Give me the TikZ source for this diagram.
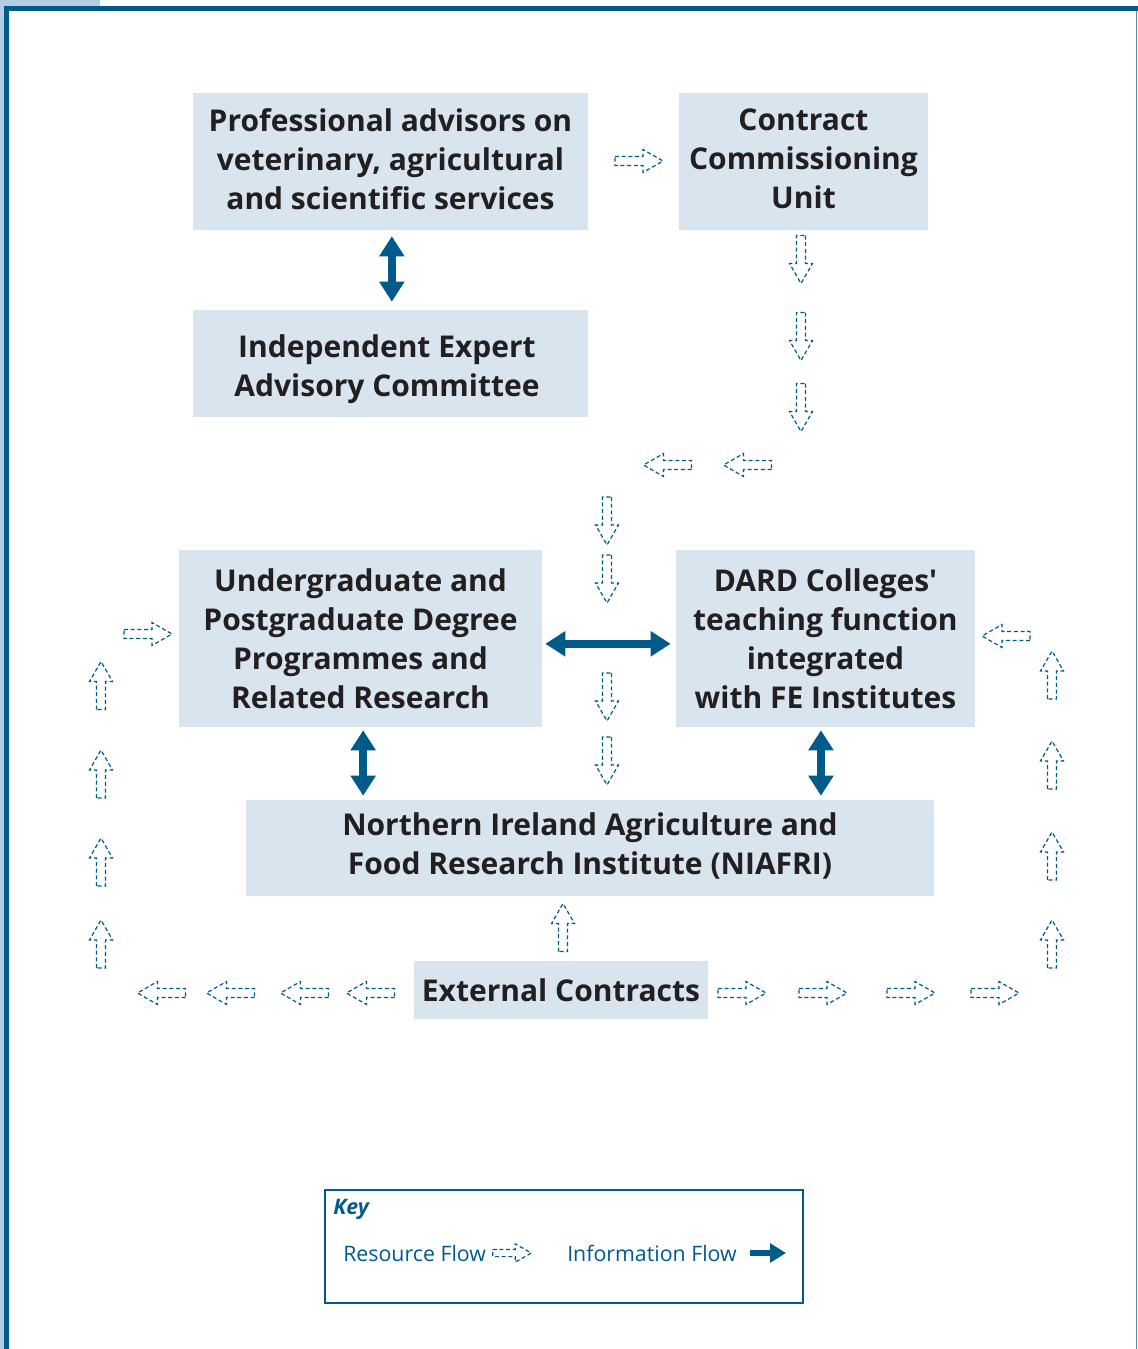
\documentclass[tikz,border=0pt]{standalone}
\usepackage{fontspec}
\setmainfont{Open Sans}
\usetikzlibrary{arrows.meta}
\definecolor{dblue}{HTML}{005A8A}
\definecolor{lframe}{HTML}{B3CDE2}
\definecolor{mblue}{HTML}{5B87B0}
\definecolor{boxfill}{HTML}{D8E4EE}
\definecolor{txt}{HTML}{231F20}
\tikzset{
  box/.style={fill=boxfill, inner sep=0pt, align=center, text=txt,
    font=\fontsize{22.5}{29.25}\selectfont\bfseries},
  boxtext/.style={inner sep=0pt, align=center, text=txt,
    font=\fontsize{22.5}{29.25}\selectfont\bfseries},
  info/.style={draw=dblue, line width=6pt,
    {Triangle[width=18pt,length=15pt]}-{Triangle[width=18pt,length=15pt]}},
  infoone/.style={draw=dblue, line width=5pt, -{Triangle[width=14pt,length=12pt]}},
  rdash/.style={draw=dblue, line width=0.9pt, dash pattern=on 3pt off 2pt},
  keytext/.style={anchor=west, inner sep=0pt, text=dblue, font=\fontsize{16}{19}\selectfont},
  rflow/.pic={\draw[rdash] (-24,-4.5) -- (4,-4.5) -- (4,-11.5) -- (24,0) -- (4,11.5) -- (4,4.5) -- (-24,4.5) -- cycle;}
}
\begin{document}
\begin{tikzpicture}[x=0.75pt,y=-0.75pt]
\useasboundingbox (0,0) rectangle (1138,1349);
% frame
\fill[white] (0,0) rectangle (1138,1349);
\fill[lframe] (0,0) rectangle (100,6);
\fill[lframe] (0,0) rectangle (4,1349);
\fill[dblue] (4,6) rectangle (1138,11);
\fill[dblue] (4,6) rectangle (9,1349);
\draw[mblue, line width=1.2pt] (1136.5,11) -- (1136.5,1349);

% boxes
\node[box, minimum width=395*0.75pt, minimum height=137*0.75pt] (b1) at (390.5,161.5) {};
\node[boxtext] (b1t) at (390.5,159)
  {Professional advisors on\\veterinary, agricultural\\and scientific services};
\node[box, minimum width=249*0.75pt, minimum height=137*0.75pt] (b2) at (803.5,161.5) {};
\node[boxtext] (b2t) at (803.5,159) {Contract\\Commissioning\\Unit};
\node[box, minimum width=395*0.75pt, minimum height=107*0.75pt] (b3) at (390.5,363.5) {};
\node[boxtext] (b3t) at (387,369.5) {Independent Expert\\Advisory Committee};
\node[box, minimum width=363*0.75pt, minimum height=177*0.75pt] (b4) at (360.5,638.5)
  {Undergraduate and\\Postgraduate Degree\\Programmes and\\Related Research};
\node[box, minimum width=299*0.75pt, minimum height=177*0.75pt] (b5) at (825.5,638.5)
  {DARD Colleges\textquotesingle\\teaching function\\integrated\\with FE Institutes};
\node[box, minimum width=688*0.75pt, minimum height=96*0.75pt] (b6) at (590,848) {};
\node[boxtext] (b6t) at (590,846) {Northern Ireland Agriculture and\\Food Research Institute (NIAFRI)};
\node[box, minimum width=294*0.75pt, minimum height=58*0.75pt] (b7) at (561,990)
  {External Contracts};

% information flows
\draw[info, shorten <=4.5pt, shorten >=6pt] ([xshift=1pt]b1.south) -- ([xshift=1pt]b3.north);
\draw[info, shorten <=2.25pt, shorten >=3.75pt] ([yshift=-4pt]b4.east) -- ([yshift=-4pt]b5.west);
\draw[info, shorten <=2.25pt, shorten >=3pt] ([xshift=2pt]b4.south) -- ([xshift=2pt]b4.south |- b6.north);
\draw[info, shorten <=2.25pt, shorten >=3pt] ([xshift=-3.4pt]b5.south) -- ([xshift=-3.4pt]b5.south |- b6.north);

% resource flows: right
\foreach \p in {(639,161),(148,634),(742,993),(823,993),(911,993),(995,993)}
  \pic at \p {rflow};
% down
\foreach \p in {(801,259.5),(801,336.5),(801,407.5),(607,521),(607,579),(607,697),(607,761)}
  \pic[rotate=-90] at \p {rflow};
% left
\foreach \p in {(667.5,465),(747.5,465),(161.5,993),(230.5,993),(304.5,993),(370.5,993),(1006,636)}
  \pic[rotate=180] at \p {rflow};
% up
\foreach \p in {(101,685.5),(101,774),(101,862),(101,944),(563,927.5),(1052,675),(1052,765),(1052,856),(1052,944)}
  \pic[rotate=90] at \p {rflow};

% key
\node[draw=dblue, line width=1.5pt, minimum width=478*0.75pt, minimum height=113*0.75pt, inner sep=0pt] (key) at (564,1246.5) {};
\node[keytext, font=\fontsize{16}{19}\selectfont\bfseries\itshape] (keyt) at (333,1209) {Key};
\node[keytext] (rf) at (343,1253) {Resource Flow};
\pic[scale=0.8] at (512,1253) {rflow};
\node[keytext] (inf) at (567,1253) {Information Flow};
\coordinate (ia) at (750,1253);
\coordinate (ib) at (786,1253);
\draw[infoone] (ia) -- (ib);
\end{tikzpicture}
\end{document}
